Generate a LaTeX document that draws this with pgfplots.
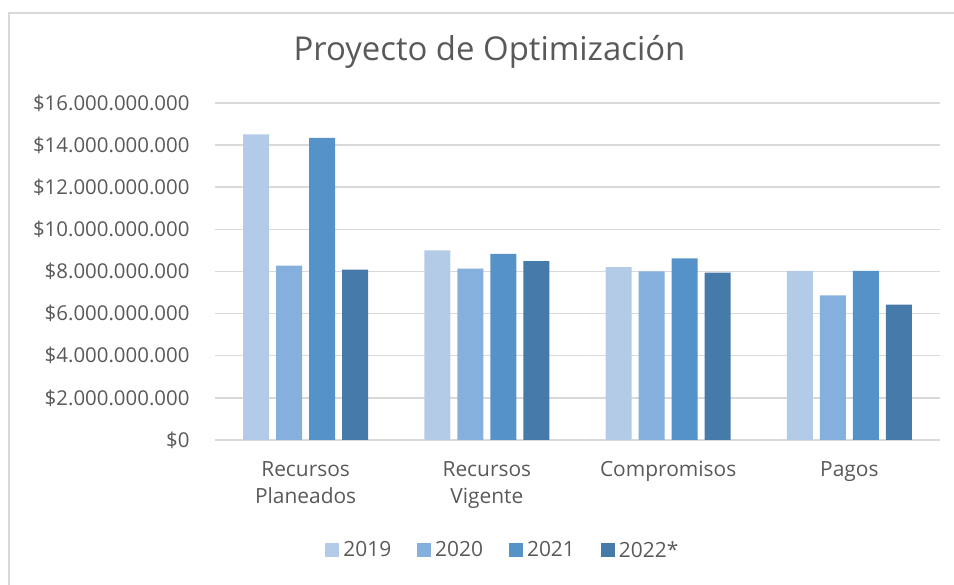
\documentclass[border=0pt]{standalone}
\usepackage{pgfplots}
\pgfplotsset{compat=1.18}
\usepackage{fontspec}
\setmainfont{Open Sans}
\definecolor{txt}{HTML}{595959}
\definecolor{grd}{HTML}{D9D9D9}
\definecolor{cA}{HTML}{B4CBE7}
\definecolor{cB}{HTML}{85AFDD}
\definecolor{cC}{HTML}{5592C8}
\definecolor{cD}{HTML}{467AA8}
\begin{document}
\begin{tikzpicture}
\path[use as bounding box] (0bp,0bp) rectangle (954bp,585bp);
\draw[grd, line width=1.5bp] (9bp,0bp) -- (9bp,572bp) -- (954bp,572bp);
\begin{axis}[
  at={(215bp,145bp)}, anchor=south west,
  scale only axis, width=725bp, height=337bp,
  ybar=7bp, bar width=26bp,
  xmin=-0.5, xmax=3.5, ymin=0, ymax=16000000000,
  xtick={0,1,2,3},
  xticklabels={{Recursos\\Planeados},{Recursos\\Vigente},{Compromisos},{Pagos}},
  xticklabel style={align=center, font=\fontsize{21}{27}\selectfont, text=txt, anchor=north, yshift=-18bp},
  ytick={0,2000000000,4000000000,6000000000,8000000000,10000000000,12000000000,14000000000,16000000000},
  yticklabels={\$0,\$2.000.000.000,\$4.000.000.000,\$6.000.000.000,\$8.000.000.000,\$10.000.000.000,\$12.000.000.000,\$14.000.000.000,\$16.000.000.000},
  yticklabel style={font=\fontsize{20.5}{24}\selectfont, text=txt, xshift=-22bp},
  scaled y ticks=false,
  major tick length=0pt,
  ymajorgrids, grid style={grd, line width=1.5bp},
  axis x line*=bottom, axis y line*=left,
  x axis line style={grd, line width=1.5bp},
  y axis line style={draw=none},
  legend columns=4,
  legend style={at={(0.397,-0.326)}, anchor=center, draw=none, fill=none,
    font=\fontsize{21}{24}\selectfont, text=txt,
    /tikz/every odd column/.append style={column sep=2bp},
    /tikz/every even column/.append style={column sep=24bp}},
  legend image code/.code={\fill[#1] (0bp,-7bp) rectangle (14bp,7bp);},
  clip=false,
]
\addplot[fill=cA, draw=none] coordinates {(0,14510000000) (1,9000000000) (2,8210000000) (3,8030000000)};
\addplot[fill=cB, draw=none] coordinates {(0,8280000000) (1,8140000000) (2,8000000000) (3,6870000000)};
\addplot[fill=cC, draw=none] coordinates {(0,14350000000) (1,8840000000) (2,8620000000) (3,8030000000)};
\addplot[fill=cD, draw=none] coordinates {(0,8090000000) (1,8490000000) (2,7950000000) (3,6430000000)};
\legend{2019,2020,2021,2022*}
\end{axis}
\node[font=\fontsize{33}{37}\selectfont, text=txt] at (489.5bp,533bp) {Proyecto de Optimización};
\end{tikzpicture}
\end{document}
